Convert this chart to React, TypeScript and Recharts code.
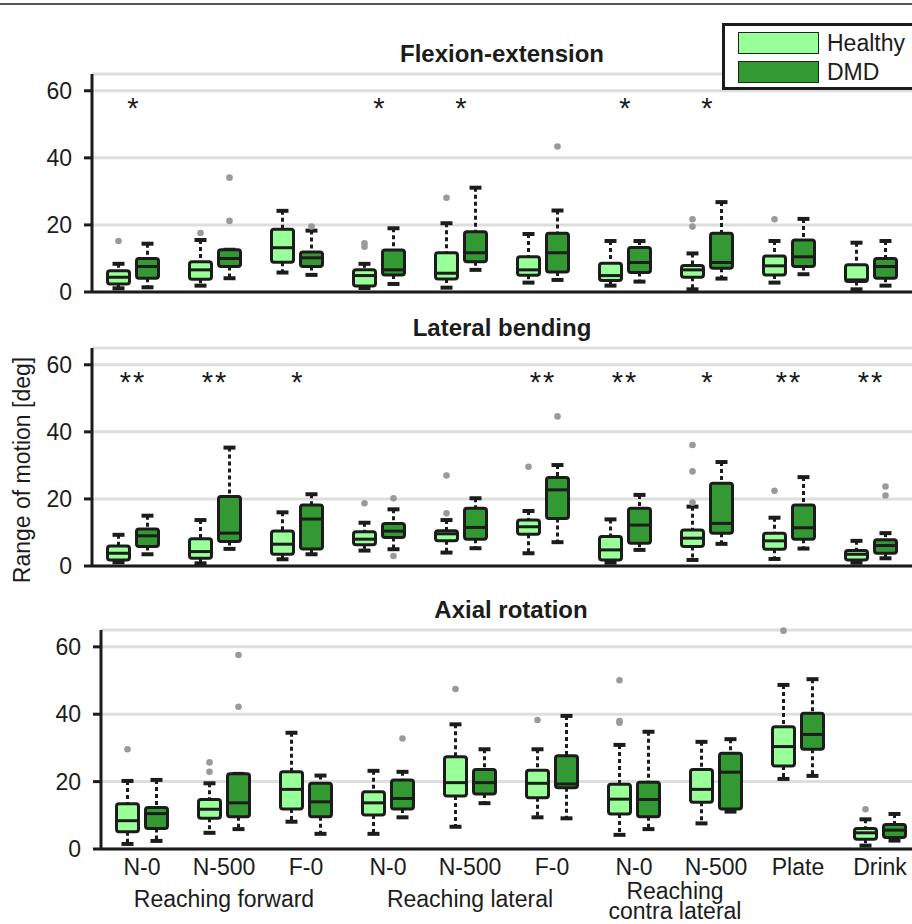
import React from "react"
import { Bar, BarChart, CartesianGrid, XAxis, YAxis } from "recharts"

const FONT = '"Liberation Sans", Arial, Helvetica, sans-serif'
const INK = "#1c1c1c"
const GRID = "#dedede"
const HEALTHY = "#99ff99"
const DMD = "#339933"
const OUTLIER = "#9a9a9a"
const STAR_LEVEL = 52

const categories = ["N-0", "N-500", "F-0", "N-0", "N-500", "F-0", "N-0", "N-500", "Plate", "Drink"]
const yTicks = [0, 20, 40, 60]

// box stats: [lower whisker, q1, median, q3, upper whisker]
const flexHealthy = [
  [1.1, 2.4, 4.4, 6.3, 8.4], [1.9, 3.8, 6.6, 9.0, 15.5], [5.8, 8.9, 13.2, 18.7, 24.2],
  [1.2, 1.8, 4.9, 6.6, 8.4], [1.3, 3.9, 5.6, 11.7, 20.5], [2.8, 5.0, 6.6, 10.5, 17.3],
  [1.9, 3.4, 4.9, 8.6, 15.2], [0.8, 4.4, 6.6, 7.9, 11.5], [2.8, 5.1, 7.8, 10.7, 15.2],
  [0.8, 3.1, 3.6, 8.1, 14.7],
]
const flexHealthyOut = [[15.2], [17.6], [], [13.5, 14.5], [28.1], [], [], [19.5, 21.7], [21.7], []]
const flexDmd = [
  [1.4, 4.1, 7.6, 10.0, 14.4], [4.1, 7.6, 10.0, 12.6, 12.6], [5.1, 7.6, 10.2, 11.9, 18.3],
  [2.4, 5.1, 6.6, 12.5, 19.0], [6.6, 9.0, 11.7, 18.0, 31.1], [3.6, 6.0, 11.7, 17.5, 24.3],
  [3.1, 5.8, 8.8, 13.3, 15.2], [4.0, 7.1, 8.8, 17.5, 26.8], [5.3, 7.6, 10.5, 15.5, 21.8],
  [1.9, 4.1, 7.6, 10.0, 15.2],
]
const flexDmdOut = [[], [21.2, 34.1], [19.5], [], [], [43.4], [], [], [], []]
const flexSig = ["*", "", "", "*", "*", "", "*", "*", "", ""]

const latHealthy = [
  [1.1, 1.8, 3.8, 6.0, 9.3], [0.8, 2.3, 4.3, 8.1, 13.7], [2.0, 3.5, 6.5, 10.4, 16.0],
  [4.6, 6.3, 8.0, 10.2, 12.9], [4.0, 7.5, 9.6, 10.5, 13.7], [3.8, 9.5, 11.7, 13.7, 16.4],
  [1.0, 1.8, 4.8, 8.8, 13.9], [1.8, 5.8, 8.3, 10.7, 17.7], [2.1, 5.0, 7.5, 9.8, 14.4],
  [1.0, 1.8, 3.5, 4.6, 7.5],
]
const latHealthyOut = [[], [], [], [18.7], [15.7, 27.0], [29.6], [], [18.9, 28.2, 36.1], [22.4], []]
const latDmd = [
  [3.5, 5.8, 9.0, 11.0, 15.0], [5.1, 7.3, 9.8, 20.7, 35.3], [3.5, 5.1, 14.0, 18.2, 21.4],
  [5.0, 8.5, 10.4, 12.7, 16.9], [5.3, 8.0, 11.5, 17.2, 20.2], [7.1, 14.2, 22.7, 26.4, 30.1],
  [4.8, 6.8, 12.2, 17.2, 21.2], [6.6, 9.8, 12.7, 24.7, 31.0], [5.2, 8.0, 11.4, 18.2, 26.5],
  [2.3, 3.8, 6.1, 7.8, 9.8],
]
const latDmdOut = [[], [], [], [3.0, 20.2], [], [44.6], [], [], [], [21.0, 23.7]]
const latSig = ["**", "**", "*", "", "", "**", "**", "*", "**", "**"]

const axHealthy = [
  [1.5, 5.1, 8.4, 13.4, 20.2], [4.8, 9.1, 11.8, 14.7, 19.5], [8.1, 11.9, 17.7, 22.9, 34.5],
  [4.5, 10.1, 13.7, 17.0, 23.2], [6.6, 15.7, 19.7, 27.4, 37.0], [9.4, 15.2, 19.5, 23.4, 29.6],
  [4.2, 10.4, 14.8, 19.2, 30.9], [7.6, 13.9, 17.7, 23.6, 31.8], [20.8, 24.6, 30.4, 36.3, 48.7],
  [1.0, 2.9, 4.8, 6.1, 8.8],
]
const axHealthyOut = [[29.6], [22.9, 25.7], [], [], [47.5], [38.3], [37.5, 38.0, 50.1], [], [64.8], [11.8]]
const axDmd = [
  [2.4, 6.1, 10.5, 12.3, 20.5], [5.9, 9.6, 13.7, 22.3, 22.3], [4.5, 9.6, 14.0, 19.5, 21.8],
  [9.4, 11.9, 15.0, 20.5, 22.9], [13.6, 16.3, 19.7, 23.6, 29.6], [9.1, 18.2, 19.3, 27.7, 39.5],
  [5.9, 9.6, 14.7, 19.8, 34.8], [11.1, 11.9, 22.8, 28.4, 32.6], [21.7, 29.6, 34.0, 40.3, 50.4],
  [2.5, 3.4, 5.6, 7.3, 10.4],
]
const axDmdOut = [[], [42.2, 57.6], [], [32.8], [], [], [], [], [], []]
const axSig = ["", "", "", "", "", "", "", "", "", ""]

const groups = [
  { label: "Reaching forward", at: 1 },
  { label: "Reaching lateral", at: 4 },
  { label: "Reaching\ncontra lateral", at: 6.5 },
]

type Row = {
  cat: string
  h: number[]
  hOut: number[]
  d: number[]
  dOut: number[]
  sig: string
}

function buildRows(h: number[][], hOut: number[][], d: number[][], dOut: number[][], sig: string[]): Row[] {
  return categories.map((cat, i) => ({ cat, h: h[i], hOut: hOut[i], d: d[i], dOut: dOut[i], sig: sig[i] }))
}

const span = (s: number[], out: number[]) => [Math.min(s[0], ...out), Math.max(s[4], ...out)]

function BoxShape(props: any) {
  const { x, y, width, height, payload, series, fill, showSig } = props
  const s: number[] = payload[series]
  const out: number[] = payload[series + "Out"]
  const [lo, hi] = span(s, out)
  const top = Math.min(y, y + height)
  const bot = Math.max(y, y + height)
  const k = (bot - top) / (hi - lo)
  const py = (v: number) => top + (hi - v) * k
  const cx = x + width / 2
  const cap = 6
  return (
    <g>
      {s[4] > s[3] && (
        <line x1={cx} x2={cx} y1={py(s[4])} y2={py(s[3])} stroke={INK} strokeWidth={3} strokeDasharray="4 3" />
      )}
      {s[1] > s[0] && (
        <line x1={cx} x2={cx} y1={py(s[1])} y2={py(s[0])} stroke={INK} strokeWidth={3} strokeDasharray="4 3" />
      )}
      <line x1={cx - cap} x2={cx + cap} y1={py(s[4])} y2={py(s[4])} stroke={INK} strokeWidth={4} />
      <line x1={cx - cap} x2={cx + cap} y1={py(s[0])} y2={py(s[0])} stroke={INK} strokeWidth={4} />
      <rect
        x={x + 1.5}
        y={py(s[3])}
        width={width - 3}
        height={Math.max(py(s[1]) - py(s[3]), 1)}
        rx={2.5}
        fill={fill}
        stroke={INK}
        strokeWidth={3}
      />
      <line x1={x + 1.5} x2={x + width - 1.5} y1={py(s[2])} y2={py(s[2])} stroke={INK} strokeWidth={3} />
      {out.map((v, i) => (
        <circle key={i} cx={cx} cy={py(v)} r={3.3} fill={OUTLIER} />
      ))}
      {showSig && payload.sig && (
        <text
          x={x + width + 2}
          y={py(STAR_LEVEL)}
          textAnchor="middle"
          fontFamily={FONT}
          fontSize={29}
          letterSpacing={payload.sig.length > 1 ? 2 : 0}
          fill={INK}
        >
          {payload.sig}
        </text>
      )}
    </g>
  )
}

function Panel({
  title,
  rows,
  top,
  left,
  plotH,
  bottomTicks,
}: {
  title: string
  rows: Row[]
  top: number
  left: number
  plotH: number
  bottomTicks: boolean
}) {
  const xh = bottomTicks ? 40 : 4
  const mb = bottomTicks ? 0 : 12
  return (
    <div style={{ position: "absolute", top, left }}>
      <div
        style={{
          position: "absolute",
          top: -22,
          left: 92,
          width: 820,
          textAlign: "center",
          fontFamily: FONT,
          fontWeight: "bold",
          fontSize: 24,
          lineHeight: "24px",
          color: INK,
        }}
      >
        {title}
      </div>
      <BarChart
        width={912}
        height={10 + plotH + xh + mb}
        data={rows}
        margin={{ top: 10, right: 0, bottom: mb, left: 0 }}
        barGap={4}
        barSize={25}
      >
        <CartesianGrid horizontal vertical={false} stroke={GRID} strokeWidth={3} />
        <XAxis
          dataKey="cat"
          height={xh}
          tick={bottomTicks ? { fontSize: 23, fill: INK, fontFamily: FONT } : false}
          tickLine={false}
          tickSize={6}
          tickMargin={4}
          interval={0}
          axisLine={{ stroke: INK, strokeWidth: 3 }}
        />
        <YAxis
          width={92}
          domain={[0, 65]}
          ticks={yTicks}
          interval={0}
          tick={{ fontSize: 23, fill: INK, fontFamily: FONT }}
          tickSize={8}
          tickMargin={12}
          tickLine={{ stroke: INK, strokeWidth: 3 }}
          axisLine={{ stroke: INK, strokeWidth: 3 }}
        />
        <Bar
          dataKey={(r: Row) => span(r.h, r.hOut)}
          isAnimationActive={false}
          shape={(p: any) => <BoxShape {...p} series="h" fill={HEALTHY} showSig />}
        />
        <Bar
          dataKey={(r: Row) => span(r.d, r.dOut)}
          isAnimationActive={false}
          shape={(p: any) => <BoxShape {...p} series="d" fill={DMD} />}
        />
      </BarChart>
    </div>
  )
}

const legendItems = [
  { label: "Healthy", color: HEALTHY },
  { label: "DMD", color: DMD },
]

export default function App() {
  const band = 82
  return (
    <div
      style={{
        position: "absolute",
        top: 0,
        left: 0,
        width: 912,
        height: 924,
        overflow: "hidden",
        background: "#fff",
        fontFamily: FONT,
        color: INK,
      }}
    >
      <div style={{ position: "absolute", top: 3, left: 0, width: 912, height: 2, background: "#555" }} />
      <Panel
        title="Flexion-extension"
        rows={buildRows(flexHealthy, flexHealthyOut, flexDmd, flexDmdOut, flexSig)}
        top={64}
        left={0}
        plotH={218}
        bottomTicks={false}
      />
      <Panel
        title="Lateral bending"
        rows={buildRows(latHealthy, latHealthyOut, latDmd, latDmdOut, latSig)}
        top={338}
        left={0}
        plotH={218}
        bottomTicks={false}
      />
      <Panel
        title="Axial rotation"
        rows={buildRows(axHealthy, axHealthyOut, axDmd, axDmdOut, axSig)}
        top={620}
        left={9}
        plotH={219}
        bottomTicks
      />
      {groups.map((g) => {
        const twoLines = g.label.includes("\n")
        return (
          <div
            key={g.label}
            style={{
              position: "absolute",
              left: 9 + 92 + band * (g.at + 0.5) - 150,
              top: twoLines ? 881 : 888,
              width: 300,
              textAlign: "center",
              whiteSpace: "pre",
              fontSize: 23,
              lineHeight: twoLines ? "20px" : "23px",
            }}
          >
            {g.label}
          </div>
        )
      })}
      <div
        style={{
          position: "absolute",
          left: 22 - 150,
          top: 470 - 13,
          width: 300,
          height: 26,
          textAlign: "center",
          fontSize: 23,
          lineHeight: "26px",
          transform: "rotate(-90deg)",
        }}
      >
        Range of motion [deg]
      </div>
      <div
        style={{
          position: "absolute",
          left: 722,
          top: 23,
          width: 220,
          height: 61,
          border: `3px solid ${INK}`,
          background: "#fff",
        }}
      >
        {legendItems.map((it, i) => (
          <div key={it.label} style={{ position: "absolute", left: 13, top: 6 + i * 29, display: "flex", alignItems: "center" }}>
            <div style={{ width: 79, height: 20, background: it.color, border: "1px solid #222" }} />
            <span style={{ marginLeft: 8, fontSize: 23, lineHeight: "22px" }}>{it.label}</span>
          </div>
        ))}
      </div>
    </div>
  )
}
